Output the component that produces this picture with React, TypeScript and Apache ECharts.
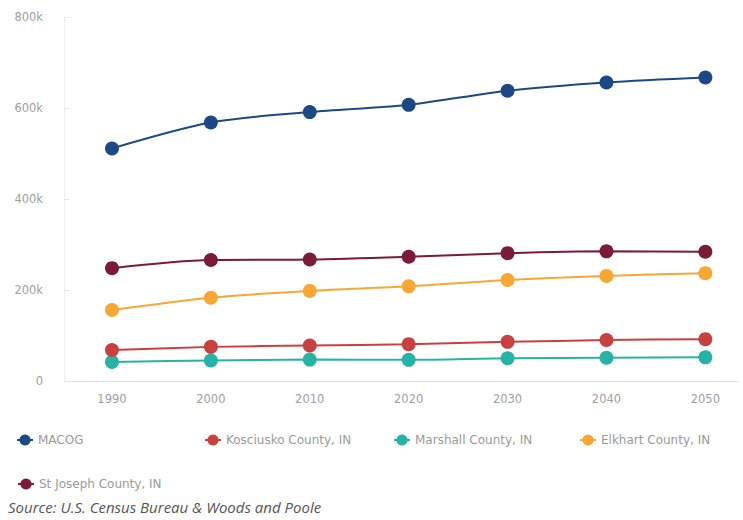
import React, { useEffect, useRef } from "react";
import * as echarts from "echarts";

const years = [1990, 2000, 2010, 2020, 2030, 2040, 2050];

const macog = [511000, 568000, 591000, 607000, 638000, 656000, 667000];
const kosciusko = [68000, 75000, 78000, 81000, 86000, 90000, 92000];
const marshall = [42000, 45000, 47000, 46500, 50000, 51000, 52000];
const elkhart = [156000, 183000, 198000, 208000, 222000, 231000, 237000];
const stJoseph = [248000, 266000, 267000, 273000, 281000, 285000, 284000];

const seriesNames = [
  "MACOG",
  "Kosciusko County, IN",
  "Marshall County, IN",
  "Elkhart County, IN",
  "St Joseph County, IN",
];
const seriesValues = [macog, kosciusko, marshall, elkhart, stJoseph];
const colors = ["#1d4886", "#c8403f", "#27b2a6", "#f8a735", "#7a1b37"];
const legendPos = [
  { left: 16, top: 434 },
  { left: 204, top: 434 },
  { left: 393, top: 434 },
  { left: 579, top: 434 },
  { left: 17, top: 478 },
];
const sourceText = "Source: U.S. Census Bureau & Woods and Poole";

export default function App() {
  const ref = useRef<HTMLDivElement>(null);
  useEffect(() => {
    if (!ref.current) return;
    const chart = echarts.init(ref.current, undefined, { renderer: "svg" });
    const labelFont = "DejaVu Sans";
    chart.setOption({
      animation: false,
      backgroundColor: "#ffffff",
      grid: { left: 64, right: 5, top: 17, bottom: 139, containLabel: false },
      xAxis: {
        type: "value",
        min: 1985.15,
        max: 2053.3,
        axisLine: { show: true, lineStyle: { color: "#dedede", width: 1 } },
        axisTick: { show: false },
        splitLine: { show: false },
        axisLabel: {
          customValues: years,
          color: "#a0a0a0",
          fontSize: 11.5,
          fontFamily: labelFont,
          margin: 12,
          formatter: (v: number) => String(v),
        },
      },
      yAxis: {
        type: "value",
        min: 0,
        max: 800000,
        interval: 200000,
        axisLine: { show: true, lineStyle: { color: "#eeeeee", width: 1 } },
        axisTick: { show: true, inside: true, length: 5, lineStyle: { color: "#e6e6e6" } },
        splitLine: { show: false },
        axisLabel: {
          color: "#a0a0a0",
          fontSize: 11.5,
          fontFamily: labelFont,
          margin: 21,
          formatter: (v: number) => (v === 0 ? "0" : v / 1000 + "k"),
        },
      },
      legend: seriesNames.map((name, i) => ({
        data: [name],
        left: legendPos[i].left,
        top: legendPos[i].top,
        padding: 0,
        itemWidth: 16,
        itemHeight: 14,
        textStyle: { color: "#9a9a9a", fontSize: 12, fontFamily: labelFont },
      })),
      graphic: [
        {
          type: "text",
          left: 8,
          top: 499,
          style: {
            text: sourceText,
            fill: "#555555",
            font: "italic 15px 'Open Sans'",
          },
        },
      ],
      series: seriesNames.map((name, i) => ({
        name,
        type: "line",
        smooth: 0.3,
        symbol: "circle",
        symbolSize: 14,
        color: colors[i],
        lineStyle: { width: 2, color: colors[i] },
        itemStyle: { color: colors[i] },
        data: years.map((y, j) => [y, seriesValues[i][j]]),
        z: 10 - i,
      })),
    });
    return () => chart.dispose();
  }, []);
  return (
    <div
      ref={ref}
      style={{ position: "absolute", left: 0, top: 0, width: 743, height: 520 }}
    />
  );
}
